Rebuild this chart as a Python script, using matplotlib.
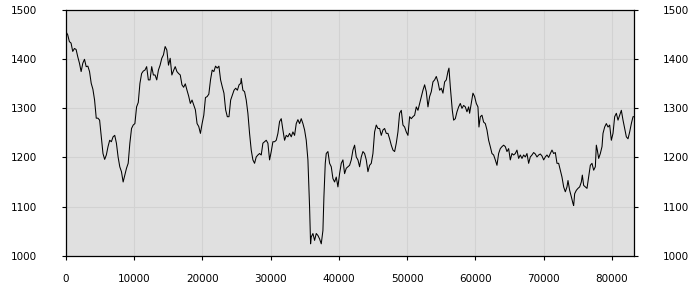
import matplotlib
matplotlib.use('Agg')
import matplotlib.pyplot as plt
from matplotlib.ticker import MultipleLocator

# sample position and value
xs = [
    0, 246, 493, 739, 985, 1232, 1478, 1724, 1970, 2217, 2463, 2709, 2956, 3202, 3448,
    3695, 3941, 4187, 4433, 4680, 4926, 5172, 5419, 5665, 5911, 6158, 6404, 6650, 6896,
    7143, 7389, 7635, 7882, 8128, 8374, 8621, 8867, 9113, 9359, 9606, 9852, 10098, 10345,
    10591, 10837, 11084, 11330, 11576, 11822, 12069, 12315, 12561, 12808, 13054, 13300,
    13547, 13793, 14039, 14285, 14532, 14778, 15024, 15271, 15517, 15763, 16010, 16256,
    16502, 16748, 16995, 17241, 17487, 17734, 17980, 18226, 18473, 18719, 18965, 19211,
    19458, 19704, 19950, 20197, 20443, 20689, 20936, 21182, 21428, 21674, 21921, 22167,
    22413, 22660, 22906, 23152, 23399, 23645, 23891, 24137, 24384, 24630, 24876, 25123,
    25369, 25615,
    25685, 25929, 26174, 26418, 26662, 26907, 27151, 27396, 27640, 27884, 28129, 28373,
    28618, 28862, 29106, 29351, 29595, 29840, 30084, 30328, 30573, 30817, 31062, 31306,
    31550, 31795, 32039, 32284, 32528, 32772, 33017, 33261, 33506, 33750, 33994, 34239,
    34483, 34728, 34972, 35216, 35461, 35705, 35852, 35950, 36194, 36438, 36683, 36927,
    37172, 37416, 37660, 37807, 38003, 38149, 38394, 38638, 38882, 39127, 39371, 39616,
    39860, 40104, 40349, 40593, 40838, 41082, 41326, 41571, 41815, 42060, 42304, 42548,
    42793, 43037, 43282, 43526, 43770, 44015, 44259, 44504, 44748, 44992, 45237, 45481,
    45726, 45970, 46214, 46459, 46703, 46948, 47192, 47436, 47681, 47925, 48170, 48414,
    48658, 48903, 49147, 49392, 49636, 49880, 50125, 50369, 50614, 50858, 51102, 51347,
    51591, 51836, 52080, 52324, 52569, 52813, 53058, 53302, 53546, 53791, 54035, 54280,
    54524, 54768, 55013, 55257, 55502, 55746, 55990, 56137, 56333, 56626, 56821, 57066,
    57310, 57555, 57799, 58043, 58288, 58532, 58776, 59021,
    59165, 59410, 59654, 59899, 60143, 60387, 60534, 60730, 60974, 61218, 61463, 61707,
    61952, 62196, 62440, 62685, 62929, 63174, 63418, 63662, 63907, 64151, 64396, 64640,
    64884, 65129, 65373, 65618, 65862, 66106, 66351, 66595, 66840, 67084, 67328, 67573,
    67817, 68062, 68306, 68550, 68795, 69039, 69284, 69528, 69772, 70017, 70261, 70506,
    70750, 70994, 71239, 71483, 71728, 71972, 72216, 72461, 72705, 72950, 73194, 73438,
    73585, 73829, 74074, 74318, 74416, 74563, 74807, 75051, 75296, 75540, 75687, 75882,
    76127, 76371, 76616, 76860, 77104, 77349, 77593, 77740, 77886, 78082, 78326, 78571,
    78717, 78962, 79206, 79451, 79695, 79939, 80184, 80428, 80673, 80917, 81162, 81406,
    81650, 81895, 82139, 82384, 82628, 82872, 83117, 83215,
]
ys = [
    1456, 1450, 1436, 1433, 1416, 1422, 1420, 1405, 1392, 1375, 1392, 1400, 1385, 1386, 1375,
    1351, 1339, 1317, 1280, 1280, 1276, 1242, 1208, 1196, 1205, 1222, 1235, 1232, 1242,
    1245, 1229, 1201, 1181, 1171, 1150, 1164, 1178, 1188, 1229, 1259, 1266, 1269, 1303,
    1312, 1351, 1371, 1376, 1378, 1385, 1358, 1358, 1385, 1368, 1368, 1358,
    1378, 1388, 1402, 1409, 1426, 1419, 1388, 1402, 1368, 1377, 1385, 1375,
    1371, 1368, 1348, 1343, 1350, 1337, 1325, 1310, 1317, 1307, 1297, 1269,
    1263, 1249, 1269, 1286, 1322, 1324, 1329, 1358, 1378, 1375, 1386, 1382,
    1386, 1358, 1344, 1331, 1297, 1283, 1283, 1317, 1327, 1337, 1341, 1337,
    1348, 1351,
    1361, 1337, 1334, 1317, 1290, 1249, 1215, 1195, 1188, 1201, 1205, 1208,
    1205, 1229, 1232, 1235, 1229, 1195, 1212, 1232, 1232, 1235, 1249, 1273,
    1279, 1256, 1235, 1245, 1242, 1249, 1242, 1252, 1245, 1269, 1277, 1269,
    1279, 1269, 1256, 1235, 1195, 1099, 1024, 1038, 1045, 1031, 1045, 1041,
    1034, 1024, 1051, 1120, 1188, 1208, 1212, 1188, 1181, 1157, 1150, 1160,
    1140, 1167, 1188, 1195, 1167, 1178, 1181, 1184, 1195, 1215, 1225, 1201,
    1195, 1181, 1201, 1212, 1208, 1195, 1171, 1184, 1188, 1208, 1252, 1266,
    1259, 1259, 1245, 1256, 1259, 1249, 1249, 1238, 1225, 1215, 1212, 1229,
    1252, 1290, 1296, 1266, 1262, 1252, 1245, 1283, 1279, 1283, 1286, 1303,
    1296, 1310, 1324, 1337, 1348, 1334, 1303, 1324, 1334, 1354, 1358, 1365,
    1354, 1337, 1341, 1331, 1354, 1358, 1375, 1382, 1344, 1296, 1276, 1279,
    1293, 1303, 1310, 1300, 1306, 1303, 1293, 1303,
    1290, 1310, 1331, 1324, 1310, 1303, 1262, 1283, 1286, 1272, 1269, 1256,
    1235, 1222, 1208, 1205, 1195, 1184, 1208, 1218, 1222, 1225, 1222, 1212,
    1218, 1195, 1208, 1205, 1208, 1215, 1198, 1205, 1198, 1205, 1201, 1208,
    1188, 1201, 1205, 1210, 1207, 1201, 1205, 1207, 1203, 1195, 1201, 1205,
    1200, 1208, 1215, 1208, 1210, 1188, 1188, 1174, 1160, 1140, 1130, 1140,
    1153, 1133, 1120, 1106, 1102, 1126, 1133, 1137, 1140, 1150, 1164, 1143,
    1140, 1137, 1160, 1184, 1188, 1174, 1181, 1225, 1215, 1198, 1208, 1222,
    1249, 1262, 1269, 1262, 1266, 1235, 1249, 1283, 1290, 1276, 1286, 1296,
    1276, 1259, 1242, 1238, 1252, 1269, 1283, 1283,
]

X_MAX = 83260

fig = plt.figure(figsize=(7, 3), dpi=100)
ax = fig.add_axes([0.0943, 0.148, 0.8114, 0.818])
ax.set_facecolor('#e0e0e0')

ax.plot(xs, ys, color='black', linewidth=0.75)

ax.set_xlim(0, X_MAX)
ax.set_ylim(1000, 1500)
ax.xaxis.set_major_locator(MultipleLocator(10000))
ax.yaxis.set_major_locator(MultipleLocator(100))
ax.grid(True, color='#d2d2d2', linewidth=0.8)
ax.set_axisbelow(True)

for s in ax.spines.values():
    s.set_color('black')
    s.set_linewidth(0.9)

ax.tick_params(axis='x', direction='out', length=3, pad=10, labelsize=7.5, width=0.8)
ax.tick_params(axis='y', direction='out', length=3, pad=18, labelsize=7.5, width=0.8,
               left=True, right=True, labelleft=True, labelright=True)

fig.savefig('out.png', dpi=100)
